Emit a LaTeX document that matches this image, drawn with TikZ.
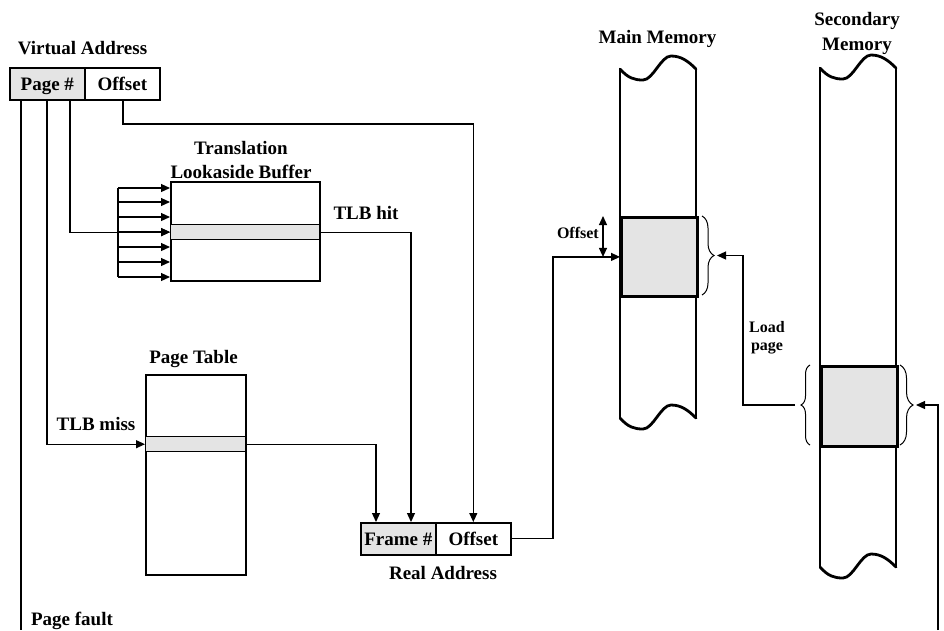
\documentclass[tikz,border=0pt]{standalone}
\usepackage{fontspec}
\setmainfont{Liberation Serif}
\usetikzlibrary{arrows.meta,decorations.pathreplacing,calc}
\definecolor{cellgray}{HTML}{E4E4E4}
\begin{document}
\begin{tikzpicture}[x=1pt,y=-1pt,
  font=\fontsize{19}{22}\selectfont\bfseries,
  cell/.style={draw,line width=1.6pt,inner sep=0pt,anchor=north west,minimum width=75pt,minimum height=32pt,text height=13pt,text depth=0pt},
  tablebox/.style={draw,line width=2pt,inner sep=0pt,anchor=north west},
  rowbox/.style={draw,line width=1.4pt,fill=cellgray,inner sep=0pt,anchor=north west},
  conn/.style={line width=1.2pt},
  arr/.style={conn,-{Triangle[length=9pt,width=8pt]}},
  dblarr/.style={conn,{Triangle[length=9pt,width=8pt]}-{Triangle[length=9pt,width=8pt]}},
  memline/.style={line width=2.8pt},
  block/.style={draw,fill=cellgray,line width=2.8pt,inner sep=0pt,anchor=north west,minimum width=76pt},
  brc/.style={decorate,decoration={brace,amplitude=#1},line width=1pt},
  lbl/.style={anchor=base,inner sep=0pt},
  small/.style={font=\fontsize{16}{19}\selectfont\bfseries}
]
\useasboundingbox (0,0) rectangle (944,630);

% ---- memory columns ----
\draw[memline] (620,69) -- (620,418);
\draw[memline] (696,69) -- (696,418);
\draw[memline] (820,68) -- (820,567);
\draw[memline] (896,68) -- (896,567);
\foreach \x/\y in {620/69, 620/418, 820/68, 820/567}{
  \draw[memline,line cap=round] (\x,\y) .. controls +(8,9) and +(-9,0) .. ++(23,11)
     .. controls +(10,0) and +(-10,0) .. ++(28,-24)
     .. controls +(10,0) and +(-8,-8) .. ++(25,13);
}
\node[block,minimum height=79pt] (mmblock) at (620,216) {};
\node[block,minimum height=80pt] (smblock) at (820,365) {};

% braces
\draw[brc=12pt] (702,216) -- (702,295);
\draw[brc=9pt] (810,445) -- (810,365);
\draw[brc=13pt] (900,365) -- (900,445);
\coordinate (mmtip) at (717,255.5);
\coordinate (smLtip) at (795,405);
\coordinate (smRtip) at (916,405);

% ---- virtual address ----
\node[cell,fill=cellgray] (vapage) at (9,67) {Page \#};
\node[cell] (vaoff) at (84,67) {Offset};
\node[lbl] (valbl) at (82.5,54) {Virtual Address};

% ---- TLB ----
\node[tablebox,minimum width=149pt,minimum height=99pt] (tlb) at (170,181) {};
\node[rowbox,minimum width=149pt,minimum height=15pt] (tlbrow) at (170,224) {};
\node[lbl] (tlblbl1) at (241,154) {Translation};
\node[lbl] (tlblbl2) at (241,178) {Lookaside Buffer};

% ---- page table ----
\node[tablebox,minimum width=100pt,minimum height=200pt] (pt) at (145,374) {};
\node[rowbox,minimum width=100pt,minimum height=15pt] (ptrow) at (145,436) {};
\node[lbl] (ptlbl) at (193.5,363) {Page Table};

% ---- real address ----
\node[cell,fill=cellgray] (raframe) at (360,522) {Frame \#};
\node[cell] (raoff) at (435,522) {Offset};
\node[lbl] (ralbl) at (443,579) {Real Address};

% ---- labels ----
\node[lbl] (mmlbl) at (657.5,43) {Main Memory};
\node[lbl] (smlbl1) at (857,25) {Secondary};
\node[lbl] (smlbl2) at (857,50) {Memory};
\node[lbl] (hitlbl) at (366,219) {TLB hit};
\node[lbl] (misslbl) at (96,430) {TLB miss};
\node[lbl] (pflbl) at (72,625) {Page fault};
\node[lbl,small,anchor=base east] (offlbl) at (599,238) {Offset};
\node[lbl,small] (loadlbl1) at (767,332) {Load};
\node[lbl,small] (loadlbl2) at (767,350) {page};

% ---- connectors ----
% page fault
\draw[conn] (21,0 |- vapage.south) -- (21,630);
\draw[arr] (938,630) |- (smRtip);
% TLB miss
\draw[arr] (47,0 |- vapage.south) |- (ptrow.west);
% TLB lookup
\draw[arr] (70,0 |- vapage.south) |- (tlbrow.west);
\draw[conn] (118,188) -- (118,277);
\foreach \y in {188,202,217,232,247,262,277}{
  \draw[arr] (118,\y) -- (tlb.west |- 0,\y);
}
% offset
\draw[arr] (123,0 |- vaoff.south) -- (123,124) -| (raoff.north);
% TLB hit
\draw[arr] (tlbrow.east) -| (411,0 |- raframe.north);
% page table entry
\draw[arr] (ptrow.east) -| (376,0 |- raframe.north);
% real address to main memory
\draw[arr] (raoff.east) -- (553,0 |- raoff.east) |- (mmblock.west);
\draw[dblarr] (603,0 |- mmblock.north) -- (603,0 |- mmblock.west);
% load page
\draw[arr] (smLtip) -- (743,405) |- (mmtip);
\end{tikzpicture}
\end{document}
